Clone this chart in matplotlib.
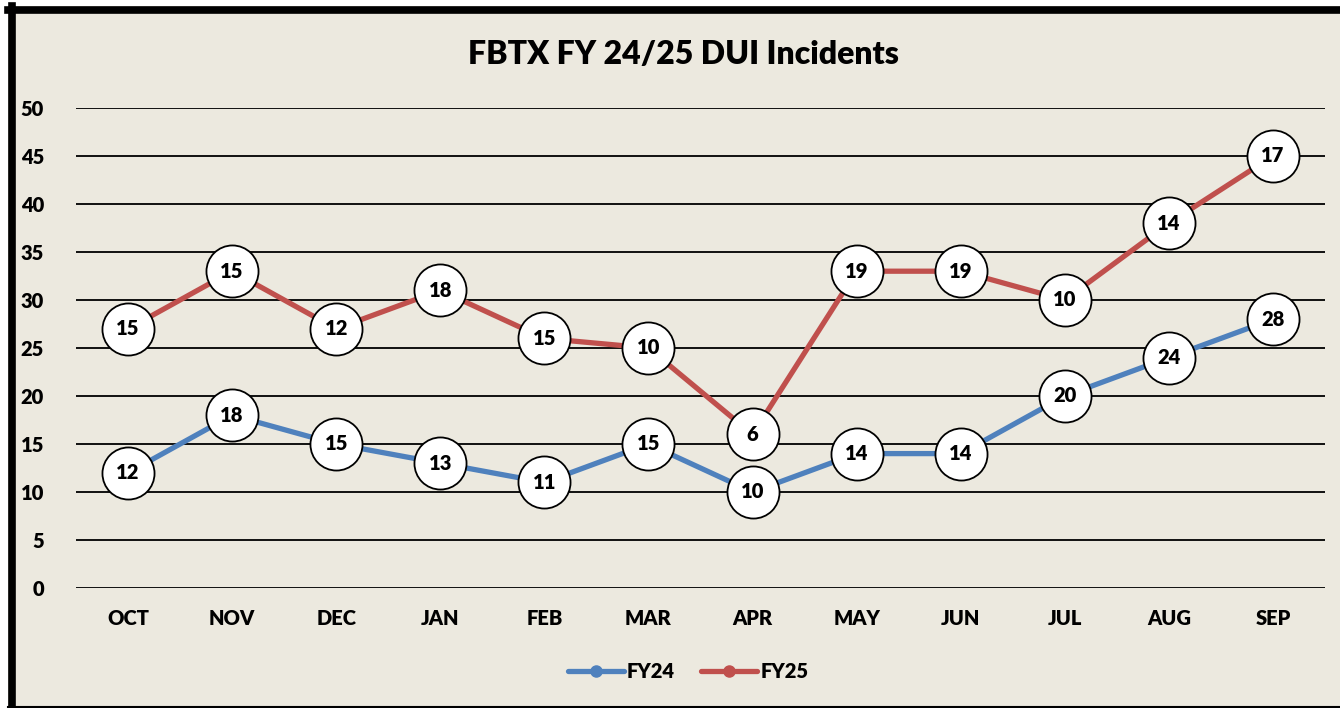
import matplotlib
matplotlib.use("Agg")
import matplotlib.pyplot as plt
from matplotlib.lines import Line2D
import numpy as np

months = ["OCT", "NOV", "DEC", "JAN", "FEB", "MAR", "APR", "MAY", "JUN", "JUL", "AUG", "SEP"]
fy24 = [12, 18, 15, 13, 11, 15, 10, 14, 14, 20, 24, 28]
fy25 = [15, 15, 12, 18, 15, 10, 6, 19, 19, 10, 14, 17]

plt.rcParams['font.family'] = ['Lato', 'DejaVu Sans']
bg = "#ECE9DF"
blue = "#4F81BD"
red = "#C0504D"
W = "heavy"

fig = plt.figure(figsize=(13.4, 7.08), dpi=100, facecolor="white")
fig.patches.append(plt.Rectangle((8/1340, 0), 1 - 8/1340, 1 - 6/708, transform=fig.transFigure,
                                 facecolor=bg, edgecolor="none", zorder=-10))
fig.add_artist(Line2D([11.5/1340, 11.5/1340], [0, 1 - 6/708], transform=fig.transFigure, color="black", lw=5.5))
fig.add_artist(Line2D([8/1340, 1], [1 - 9.5/708, 1 - 9.5/708], transform=fig.transFigure, color="black", lw=5.5))
fig.add_artist(Line2D([8/1340, 1], [1.5/708, 1.5/708], transform=fig.transFigure, color="black", lw=1.5))

ax = fig.add_axes([76/1340, 1 - 588/708, 1249/1340, 480/708])
ax.set_facecolor(bg)
x = np.arange(len(months))
stack = np.array(fy24) + np.array(fy25)

ax.plot(x, fy24, color=blue, lw=3.8, zorder=3, solid_capstyle="round")
ax.plot(x, stack, color=red, lw=3.8, zorder=3, solid_capstyle="round")
ax.plot(x, fy24, ls="none", marker="o", ms=37.5, mfc="white", mec="black", mew=1.3, zorder=4)
ax.plot(x, stack, ls="none", marker="o", ms=37.5, mfc="white", mec="black", mew=1.3, zorder=4)
for xi, v in zip(x, fy24):
    ax.text(xi, v, str(v), ha="center", va="center", fontsize=14.5, fontweight=W, zorder=5)
for xi, s, v in zip(x, stack, fy25):
    ax.text(xi, s, str(v), ha="center", va="center", fontsize=14.5, fontweight=W, zorder=5)

ax.set_xlim(-0.5, len(months) - 0.5)
ax.set_ylim(0, 50)
ax.set_yticks(range(0, 51, 5))
ax.set_xticks(x)
ax.set_xticklabels(months)
ax.grid(axis="y", color="black", lw=1.3)
ax.set_axisbelow(True)
for s in ax.spines.values():
    s.set_visible(False)
ax.tick_params(length=0, labelsize=14.5, pad=15)
ax.tick_params(axis="y", pad=23)
for lab in ax.get_xticklabels() + ax.get_yticklabels():
    lab.set_fontweight(W)

fig.text(683/1340, 1 - 54/708, "FBTX FY 24/25 DUI Incidents", ha="center", va="center",
         fontsize=23, fontweight=W)

handles = [Line2D([], [], color=blue, lw=3.8, marker="o", ms=8, solid_capstyle="round"),
           Line2D([], [], color=red, lw=3.8, marker="o", ms=8, solid_capstyle="round")]
fig.legend(handles, ["FY24", "FY25"], loc="center", bbox_to_anchor=(688/1340, 1 - 672/708),
           ncol=2, frameon=False, prop={"weight": W, "size": 14.5}, handlelength=2.8,
           handletextpad=0.15, columnspacing=1.3)

fig.savefig("out.png", dpi=100, facecolor="white")
